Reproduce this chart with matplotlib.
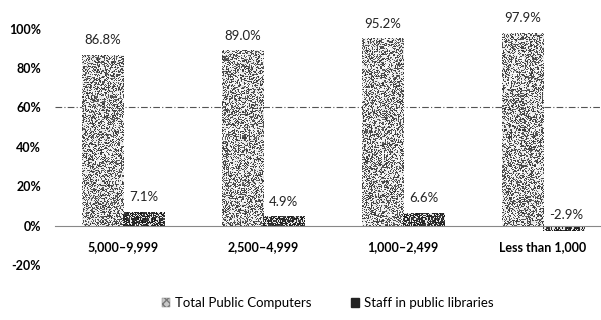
import matplotlib.pyplot as plt
import numpy as np
from matplotlib.patches import Patch

# Percent change by library service-area population
categories = ['5,000–9,999', '2,500–4,999', '1,000–2,499', 'Less than 1,000']
total_computers = [86.8, 89.0, 95.2, 97.9]
staff = [7.1, 4.9, 6.6, -2.9]
y_ticks = [-20, 0, 20, 40, 60, 80, 100]

plt.rcParams['font.family'] = ['Lato', 'DejaVu Sans']

fig = plt.figure(figsize=(6.01, 3.2), dpi=100)
ax = fig.add_axes([55 / 601, 1 - 265 / 320, 546 / 601, 236.5 / 320])

x = np.arange(len(categories))
width = 0.293


def stipple(h_px, w_px, seed, dense):
    # deterministic grainy fill, like a photocopied print
    yy, xx = np.mgrid[0:h_px, 0:w_px]
    h = np.sin(xx * 12.9898 + yy * 78.233 + seed * 3.17) * 43758.5453
    h = h - np.floor(h)
    if dense:
        return np.where(h < 0.72, 0.08 + 0.25 * h, 0.7 + 0.25 * h)
    return np.where(h < 0.42, 0.2 + 0.5 * h, 0.78 + 0.22 * h)


def textured_bars(xpos, vals, dense, seed):
    bars = ax.bar(xpos, vals, width, color='none', edgecolor='none')
    for k, (b, v) in enumerate(zip(bars, vals)):
        x0 = b.get_x()
        y0, y1 = sorted([0, v])
        img = stipple(max(int(abs(v) * 1.97), 2), 41, seed + k, dense)
        im = ax.imshow(img, extent=(x0, x0 + width, y0, y1), aspect='auto',
                       cmap='gray', vmin=0, vmax=1, interpolation='nearest',
                       zorder=2)
        im.set_clip_path(b)
    return bars


textured_bars(x - width / 2, total_computers, False, 1)
textured_bars(x + width / 2, staff, True, 11)

# value labels
for xi, v in zip(x - width / 2, total_computers):
    ax.annotate(f'{v:.1f}%', (xi, v), xytext=(0, 6), textcoords='offset points',
                ha='center', va='bottom', fontsize=9.5, color='#222222',
                annotation_clip=False)
for xi, v in zip(x + width / 2, staff):
    ax.annotate(f'{v:.1f}%', (xi, max(v, 0)), xytext=(2 if v < 0 else 0, 6 if v > 0 else 3),
                textcoords='offset points', ha='center', va='bottom',
                fontsize=9.5, color='#222222', annotation_clip=False)

ax.axhline(60, color='#555555', linewidth=0.8, linestyle=(0, (6, 2, 1, 2)),
           zorder=1)

for s in ['top', 'right', 'left']:
    ax.spines[s].set_visible(False)
ax.spines['bottom'].set_position(('data', 0))
ax.spines['bottom'].set_color('#888888')
ax.spines['bottom'].set_linewidth(0.8)
ax.spines['bottom'].set_linestyle((0, (4, 1)))

ax.set_xlim(-0.486, 3.414)
ax.set_ylim(-20, 100)
ax.set_yticks(y_ticks)
ax.set_yticklabels([f'{t}%' for t in y_ticks], fontsize=9, fontweight='bold')
ax.set_xticks(x)
ax.set_xticklabels(categories, fontsize=9, fontweight='bold')
ax.tick_params(length=0, pad=10)
ax.tick_params(axis='x', pad=11)

handles = [Patch(facecolor='#c8c8c8', edgecolor='#777777', hatch='xxxx', linewidth=0.3),
           Patch(facecolor='#222222', edgecolor='#222222')]
fig.legend(handles, ['Total Public Computers', 'Staff in public libraries'],
           loc='center', bbox_to_anchor=(328 / 601, 1 - 303 / 320), ncol=2,
           frameon=False, fontsize=9.5, handlelength=0.6, handleheight=0.6,
           handletextpad=0.4, columnspacing=3.0)

fig.savefig('out.png', dpi=100)
